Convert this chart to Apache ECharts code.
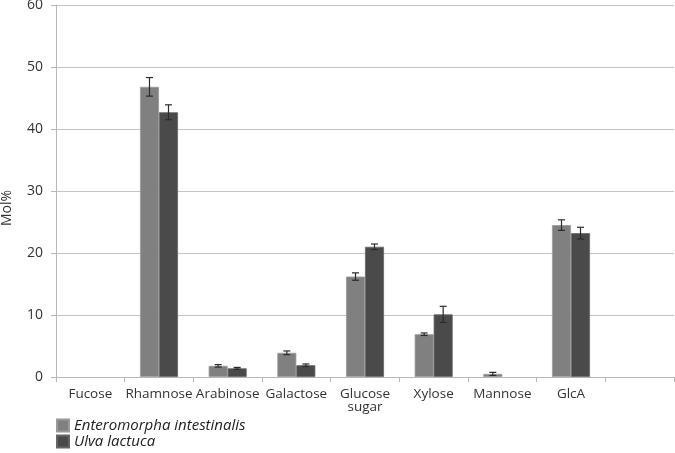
<!DOCTYPE html>
<html>
<head>
<meta charset="utf-8">
<script src="https://cdn.jsdelivr.net/npm/echarts@6/dist/echarts.min.js"></script>
<style>html,body{margin:0;padding:0;background:#fff}#c{width:675px;height:453px}</style>
</head>
<body>
<div id="c"></div>
<script>
var categories = ['Fucose', 'Rhamnose', 'Arabinose', 'Galactose', 'Glucose\nsugar', 'Xylose', 'Mannose', 'GlcA', ''];
var seriesNames = ['Enteromorpha intestinalis', 'Ulva lactuca'];
var enteroValues = [0, 46.8, 1.8, 3.9, 16.2, 6.9, 0.5, 24.5, null];
var enteroErrors = [0, 1.5, 0.2, 0.3, 0.6, 0.2, 0.25, 0.85, null];
var ulvaValues = [0, 42.7, 1.4, 1.9, 21.0, 10.1, 0, 23.2, null];
var ulvaErrors = [0, 1.2, 0.15, 0.2, 0.45, 1.3, 0, 0.95, null];
var yTicks = [0, 10, 20, 30, 40, 50, 60];

var BAR_W = 19;
function barData(vals) {
  return vals.map(function (v) { return v ? v : '-'; });
}
function errData(vals, errs) {
  var out = [];
  for (var i = 0; i < vals.length; i++) {
    if (vals[i] && errs[i]) out.push([i, vals[i] - errs[i], vals[i] + errs[i]]);
  }
  return out;
}
function errRender(offset) {
  return function (params, api) {
    var lo = api.coord([api.value(0), api.value(1)]);
    var hi = api.coord([api.value(0), api.value(2)]);
    var x = lo[0] + offset;
    var cap = 3.5;
    var st = { stroke: '#2b2b2b', lineWidth: 1.2 };
    return {
      type: 'group',
      children: [
        { type: 'line', shape: { x1: x, y1: lo[1], x2: x, y2: hi[1] }, style: st },
        { type: 'line', shape: { x1: x - cap, y1: lo[1], x2: x + cap, y2: lo[1] }, style: st },
        { type: 'line', shape: { x1: x - cap, y1: hi[1], x2: x + cap, y2: hi[1] }, style: st }
      ]
    };
  };
}

var chart = echarts.init(document.getElementById('c'), null, { renderer: 'canvas' });
var font = '"Open Sans", "DejaVu Sans", sans-serif';
var legendText = { fontStyle: 'italic', fontSize: 15, color: '#222', fontFamily: font };
chart.setOption({
  animation: false,
  textStyle: { fontFamily: font },
  grid: { left: 56, right: 1, top: 5, bottom: 76, containLabel: false, outerBoundsMode: 'none' },
  legend: [
    { orient: 'horizontal', left: 56, top: 418, padding: 0, itemWidth: 12, itemHeight: 12,
      data: [seriesNames[0]], textStyle: legendText, icon: 'rect' },
    { orient: 'horizontal', left: 56, top: 434, padding: 0, itemWidth: 12, itemHeight: 12,
      data: [seriesNames[1]], textStyle: legendText, icon: 'rect' }
  ],
  xAxis: {
    type: 'category', data: categories, boundaryGap: true,
    axisLine: { lineStyle: { color: '#b8b8b8', width: 1 } },
    axisTick: { show: true, interval: 0, length: 5, lineStyle: { color: '#b8b8b8' } },
    axisLabel: { interval: 0, fontSize: 13.5, color: '#333', margin: 11, lineHeight: 13, fontFamily: font }
  },
  yAxis: {
    type: 'value', min: 0, max: 60, interval: 10,
    name: 'Mol%', nameLocation: 'middle', nameRotate: 90, nameGap: 42,
    nameTextStyle: { fontSize: 14, color: '#333', fontFamily: font, padding: [0, 34, 0, 0] },
    axisLine: { show: true, lineStyle: { color: '#b8b8b8', width: 1 } },
    axisTick: { show: true, length: 5, lineStyle: { color: '#b8b8b8' } },
    axisLabel: { fontSize: 14, color: '#333', margin: 13, fontFamily: font,
      formatter: function (v) { return yTicks.indexOf(v) >= 0 ? String(v) : ''; } },
    splitLine: { lineStyle: { color: '#c4c4c4', width: 1.2 } }
  },
  series: [
    { name: seriesNames[0], type: 'bar', data: barData(enteroValues), barWidth: BAR_W, barGap: '0%',
      itemStyle: { color: '#808080', borderColor: '#9a9a9a', borderWidth: 0.8 } },
    { name: seriesNames[1], type: 'bar', data: barData(ulvaValues), barWidth: BAR_W, barGap: '0%',
      itemStyle: { color: '#4a4a4a', borderColor: '#666', borderWidth: 0.8 } },
    { type: 'custom', data: errData(enteroValues, enteroErrors), renderItem: errRender(-BAR_W / 2), z: 5,
      encode: { x: 0, y: [1, 2] }, silent: true },
    { type: 'custom', data: errData(ulvaValues, ulvaErrors), renderItem: errRender(BAR_W / 2), z: 5,
      encode: { x: 0, y: [1, 2] }, silent: true }
  ]
});
</script>
</body>
</html>
